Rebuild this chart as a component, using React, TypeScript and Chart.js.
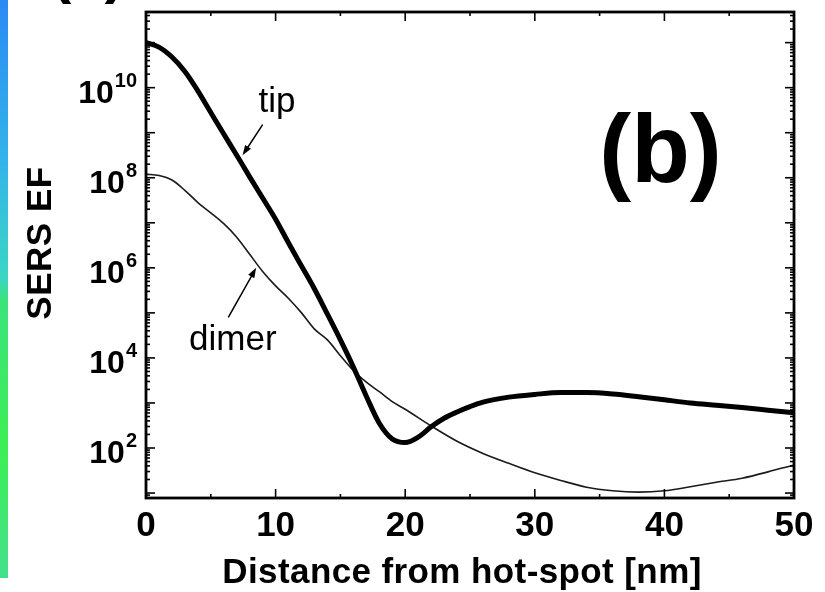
import React, { useEffect, useRef } from 'react';
import { Chart, registerables } from 'chart.js';

Chart.register(...registerables);

// ---- data ----
const tipDistanceNm = [0, 1, 2, 3, 4, 5, 6, 7, 8, 9, 10, 11, 12, 13, 14, 15, 16, 17, 18, 19, 20, 21, 22, 23, 24, 25, 26, 28, 30, 32, 34, 36, 38, 40, 42, 44, 46, 48, 50];
const tipLog10EF = [11.0, 10.9, 10.68, 10.36, 9.93, 9.45, 8.97, 8.5, 8.02, 7.55, 7.08, 6.55, 6.04, 5.53, 4.97, 4.4, 3.8, 3.15, 2.55, 2.2, 2.12, 2.24, 2.47, 2.66, 2.8, 2.92, 3.02, 3.13, 3.19, 3.23, 3.23, 3.2, 3.14, 3.07, 3.0, 2.95, 2.9, 2.84, 2.78];

const dimerDistanceNm = [0, 1, 2, 3, 4, 5, 6, 7, 8, 9, 10, 11, 12, 13, 14, 15, 16, 17, 18, 19, 20, 22, 24, 26, 28, 30, 32, 34, 36, 38, 40, 42, 44, 46, 48, 49, 50];
const dimerLog10EF = [8.08, 8.05, 7.95, 7.72, 7.45, 7.22, 6.98, 6.68, 6.3, 5.92, 5.6, 5.32, 5.0, 4.64, 4.4, 4.05, 3.72, 3.46, 3.25, 3.03, 2.86, 2.49, 2.15, 1.88, 1.66, 1.45, 1.28, 1.13, 1.05, 1.02, 1.05, 1.14, 1.24, 1.33, 1.47, 1.55, 1.62];

const seriesNames = ['tip', 'dimer'];
const xTickValues = [0, 10, 20, 30, 40, 50];
const xMinorTickValues = [0, 5, 10, 15, 20, 25, 30, 35, 40, 45, 50];
const yLabelExponents = [2, 4, 6, 8, 10];
const yDecadeExponents = [0, 1, 2, 3, 4, 5, 6, 7, 8, 9, 10, 11, 12];
const yMinorMultipliers = [1, 2, 3, 4, 5, 6, 7, 8, 9];
const xAxisTitle = 'Distance from hot-spot [nm]';
const yAxisTitle = 'SERS EF';
const panelLabel = '(b)';

// annotation anchors in data coordinates [distance, log10 EF]
const tipLabelAt = [10.1, 9.45];
const tipArrowFrom = [9.0, 9.18];
const tipArrowTo = [7.45, 8.5];
const dimerLabelAt = [6.7, 4.18];
const dimerArrowFrom = [6.35, 4.9];
const dimerArrowTo = [8.5, 6.0];
const panelLabelAt = [39.7, 7.9];

const FONT = '"Liberation Sans", Arial, Helvetica, sans-serif';

const decorPlugin = {
  id: 'decor',
  afterDatasetsDraw(chart: any) {
    const { ctx, chartArea: a, scales } = chart;
    const xs = scales.x;
    const ys = scales.y;
    const px = (v: number) => xs.getPixelForValue(v);
    const py = (lg: number) => ys.getPixelForValue(Math.pow(10, lg));
    ctx.save();
    ctx.strokeStyle = '#000';
    ctx.fillStyle = '#000';
    ctx.lineCap = 'butt';

    const seg = (x1: number, y1: number, x2: number, y2: number) => {
      ctx.beginPath();
      ctx.moveTo(x1, y1);
      ctx.lineTo(x2, y2);
      ctx.stroke();
    };

    // y ticks (inward, both sides)
    ctx.lineWidth = 1.6;
    for (const e of yDecadeExponents) {
      for (const m of yMinorMultipliers) {
        const y = ys.getPixelForValue(m * Math.pow(10, e));
        if (y < a.top + 1 || y > a.bottom - 1) continue;
        const len = m === 1 ? 9 : 4;
        seg(a.left, y, a.left + len, y);
        seg(a.right, y, a.right - len, y);
      }
    }
    // x ticks
    for (const v of xMinorTickValues) {
      const x = px(v);
      const len = v % 10 === 0 ? 9 : 4;
      seg(x, a.bottom, x, a.bottom - len);
      seg(x, a.top, x, a.top + len);
    }
    // frame
    ctx.lineWidth = 2.8;
    ctx.strokeRect(a.left, a.top, a.right - a.left, a.bottom - a.top);

    // y tick labels 10^n
    const rightEdge = a.left - 9;
    for (const e of yLabelExponents) {
      const y = py(e);
      const sup = String(e);
      ctx.font = `bold 20px ${FONT}`;
      const wSup = ctx.measureText(sup).width;
      ctx.font = `bold 32px ${FONT}`;
      const wBase = ctx.measureText('10').width;
      ctx.textAlign = 'left';
      ctx.textBaseline = 'alphabetic';
      const x0 = rightEdge - wSup - wBase - 1;
      ctx.fillText('10', x0, y + 15);
      ctx.font = `bold 20px ${FONT}`;
      ctx.fillText(sup, x0 + wBase + 1, y - 1);
    }

    // y title
    ctx.save();
    ctx.translate(41, 243);
    ctx.rotate(-Math.PI / 2);
    ctx.font = `bold 35px ${FONT}`;
    (ctx as any).letterSpacing = '0.5px';
    ctx.textAlign = 'center';
    ctx.textBaseline = 'middle';
    ctx.fillText(yAxisTitle, 0, 0);
    ctx.restore();

    // x title
    ctx.save();
    ctx.font = `bold 35px ${FONT}`;
    (ctx as any).letterSpacing = '0.4px';
    ctx.textAlign = 'center';
    ctx.textBaseline = 'alphabetic';
    ctx.fillText(xAxisTitle, 462, 583);
    ctx.restore();

    // annotations
    ctx.font = `35px ${FONT}`;
    ctx.textAlign = 'center';
    ctx.textBaseline = 'alphabetic';
    ctx.fillText(seriesNames[0], px(tipLabelAt[0]), py(tipLabelAt[1]));
    ctx.fillText(seriesNames[1], px(dimerLabelAt[0]), py(dimerLabelAt[1]));

    const arrow = (from: number[], to: number[]) => {
      const x1 = px(from[0]), y1 = py(from[1]);
      const x2 = px(to[0]), y2 = py(to[1]);
      const ang = Math.atan2(y2 - y1, x2 - x1);
      ctx.lineWidth = 1.5;
      seg(x1, y1, x2 - 6 * Math.cos(ang), y2 - 6 * Math.sin(ang));
      const L = 10, W = 3.5;
      ctx.beginPath();
      ctx.moveTo(x2, y2);
      ctx.lineTo(x2 - L * Math.cos(ang) + W * Math.sin(ang), y2 - L * Math.sin(ang) - W * Math.cos(ang));
      ctx.lineTo(x2 - L * Math.cos(ang) - W * Math.sin(ang), y2 - L * Math.sin(ang) + W * Math.cos(ang));
      ctx.closePath();
      ctx.fill();
    };
    arrow(tipArrowFrom, tipArrowTo);
    arrow(dimerArrowFrom, dimerArrowTo);

    // panel label
    ctx.font = `bold 96px ${FONT}`;
    ctx.textAlign = 'center';
    ctx.fillText(panelLabel, px(panelLabelAt[0]), py(panelLabelAt[1]));

    // cut-off neighbour label at the very top
    ctx.font = `bold 60px ${FONT}`;
    ctx.fillText('(a)', 88, -8);

    ctx.restore();
  },
};

export default function App() {
  const ref = useRef<HTMLCanvasElement | null>(null);

  useEffect(() => {
    if (!ref.current) return;
    const chart = new Chart(ref.current, {
      type: 'line',
      data: {
        datasets: [
          {
            label: seriesNames[0],
            data: tipDistanceNm.map((x, i) => ({ x, y: Math.pow(10, tipLog10EF[i]) })),
            borderColor: '#000',
            borderWidth: 5,
            pointRadius: 0,
            cubicInterpolationMode: 'monotone',
            fill: false,
          },
          {
            label: seriesNames[1],
            data: dimerDistanceNm.map((x, i) => ({ x, y: Math.pow(10, dimerLog10EF[i]) })),
            borderColor: '#1a1a1a',
            borderWidth: 1.6,
            pointRadius: 0,
            cubicInterpolationMode: 'monotone',
            fill: false,
          },
        ],
      },
      options: {
        animation: false,
        responsive: false,
        events: [],
        layout: { padding: { left: 0, top: 12, right: 31, bottom: 0 } },
        plugins: {
          legend: { display: false },
          tooltip: { enabled: false },
        },
        scales: {
          x: {
            type: 'linear',
            min: 0,
            max: 50,
            afterBuildTicks: (s: any) => {
              s.ticks = xTickValues.map((v) => ({ value: v }));
            },
            afterFit: (s: any) => {
              s.height = 94;
            },
            grid: { display: false, drawTicks: false },
            border: { display: false },
            ticks: {
              color: '#000',
              padding: 7,
              maxRotation: 0,
              autoSkip: false,
              font: { family: FONT, size: 35, weight: 'bold' },
            },
            title: { display: false },
          },
          y: {
            type: 'logarithmic',
            min: Math.pow(10, 0.89),
            max: Math.pow(10, 11.68),
            afterFit: (s: any) => {
              s.width = 146;
            },
            grid: { display: false, drawTicks: false },
            border: { display: false },
            ticks: { display: false },
          },
        },
      },
      plugins: [decorPlugin],
    } as any);
    return () => chart.destroy();
  }, []);

  return (
    <div style={{ position: 'fixed', left: 0, top: 0, width: 825, height: 592, background: '#fff' }}>
      <div
        style={{
          position: 'absolute',
          left: 0,
          top: 0,
          width: 8,
          height: 578,
          background:
            'linear-gradient(to bottom, #2b8af4 0%, #33b4ea 28%, #3ad6c4 48%, #3be37a 52%, #3def55 78%, #44e08e 100%)',
        }}
      />
      <canvas ref={ref} width={825} height={592} style={{ position: 'absolute', left: 0, top: 0, width: 825, height: 592 }} />
    </div>
  );
}
